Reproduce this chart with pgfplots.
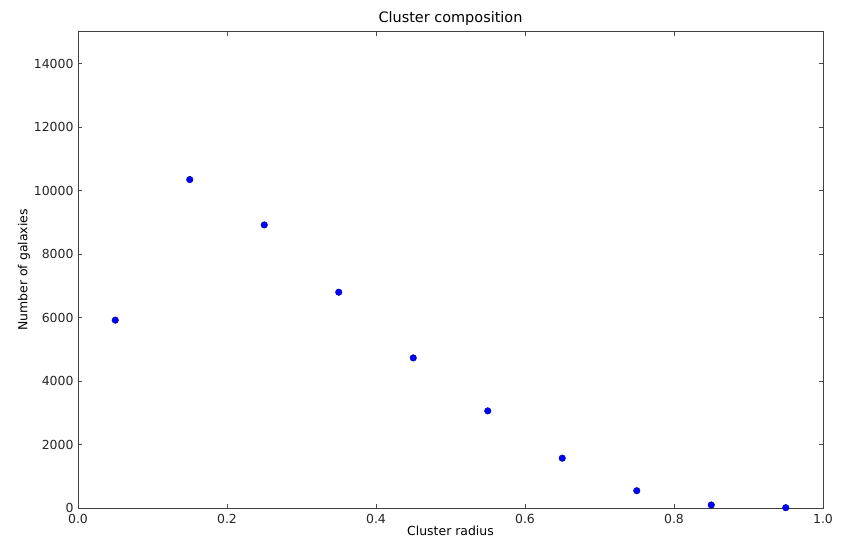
\documentclass[border=0pt]{standalone}
\usepackage{pgfplots}
\pgfplotsset{compat=1.18}
\usepackage{fontspec}
\setmainfont{DejaVu Sans}
\begin{document}
\begin{tikzpicture}
\begin{axis}[
  scale only axis,
  width=745bp, height=476bp,
  xmin=0, xmax=1, ymin=0, ymax=15000,
  xtick={0,0.2,0.4,0.6,0.8,1.0},
  ytick={0,2000,4000,6000,8000,10000,12000,14000},
  /pgf/number format/assume math mode=true,
  xticklabel style={/pgf/number format/fixed, /pgf/number format/fixed zerofill, /pgf/number format/precision=1},
  yticklabel style={/pgf/number format/1000 sep={}},
  scaled y ticks=false,
  tick align=inside,
  major tick length=4bp,
  tick style={black!70, line width=0.5pt},
  axis line style={black!75, line width=1pt},
  ticklabel style={font=\fontsize{12.5}{14}\selectfont, text=black!85},
  xticklabel style={yshift=-2.5bp},
  yticklabel style={xshift=-1bp},
  title={Cluster composition},
  title style={font=\fontsize{14.5}{16}\selectfont, yshift=-3bp},
  xlabel={Cluster radius},
  ylabel={Number of galaxies},
  label style={font=\fontsize{12.5}{14}\selectfont},
  xlabel style={yshift=4bp},
  ylabel style={yshift=-3bp},
]
\addplot[only marks, mark=*, mark size=3.3bp, mark options={fill=blue, draw=blue!60!black, line width=0.4pt}]
coordinates {
(0.05,5920) (0.15,10350) (0.25,8920) (0.35,6800) (0.45,4730)
(0.55,3060) (0.65,1570) (0.75,545) (0.85,95) (0.95,10)
};
\end{axis}
\pgfresetboundingbox
\path ([shift={(-78bp,-32bp)}]current axis.south west) rectangle ([shift={(21bp,32bp)}]current axis.north east);
\end{tikzpicture}
\end{document}
